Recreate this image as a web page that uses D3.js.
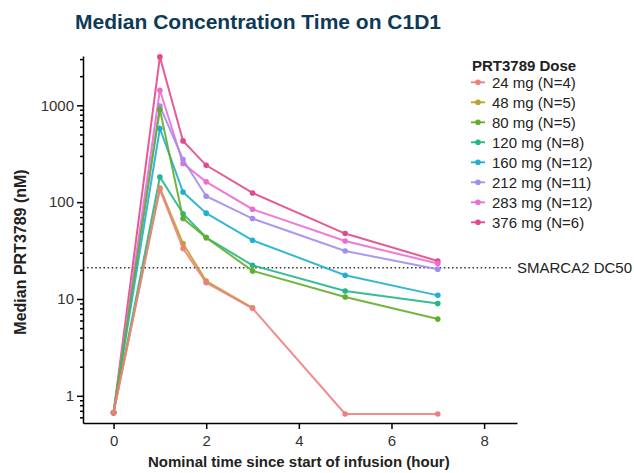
<!DOCTYPE html>
<html>
<head>
<meta charset="utf-8">
<script src="https://cdn.jsdelivr.net/npm/d3@7"></script>
<style>
  body { margin: 0; background: #fff; }
  svg text { font-family: "Liberation Sans", Arial, sans-serif; }
  .axis path, .axis line { stroke: #000; stroke-width: 1.5; }
  .axis text { font-size: 15px; fill: #333; }
</style>
</head>
<body>
<div id="chart"></div>
<script>
// Data
const times = [0, 1, 1.5, 2, 3, 5, 7];
const doses = ["24 mg (N=4)", "48 mg (N=5)", "80 mg (N=5)", "120 mg (N=8)",
               "160 mg (N=12)", "212 mg (N=11)", "283 mg (N=12)", "376 mg (N=6)"];
const conc24  = [0.67, 135, 33.2, 14.7, 8.0, 0.65, 0.65];
const conc48  = [0.67, 140, 37.3, 15.3, 8.1];
const conc80  = [0.67, 905, 67.7, 43.0, 19.5, 10.5, 6.2];
const conc120 = [0.67, 182, 76, 43.1, 22.3, 12.1, 8.96];
const conc160 = [0.67, 576, 127, 77, 40.4, 17.6, 10.9];
const conc212 = [0.67, 980, 275, 115, 67.7, 31.3, 20.3];
const conc283 = [0.67, 1432, 251, 162, 84.5, 39.7, 23.2];
const conc376 = [0.67, 3160, 429, 240, 124.5, 47.4, 24.7];
const dc50 = 21;
const xTicks = [0, 2, 4, 6, 8];
const yTicks = [1, 10, 100, 1000];

const colors = ["#ee7f7f", "#bba22c", "#62ae2c", "#22b78b", "#1fb0d1", "#a38cf0", "#ee6bd2", "#e2498a"];
const allConc = [conc24, conc48, conc80, conc120, conc160, conc212, conc283, conc376];

const series = doses.map((name, i) => ({
  name: name,
  color: colors[i],
  values: allConc[i].map((v, j) => ({ t: times[j], c: v }))
}));

// Chart dimensions
const width = 634;
const height = 473;
const margin = { top: 56, right: 117, bottom: 50, left: 83 };

const svg = d3.select("#chart")
  .append("svg")
  .attr("width", width)
  .attr("height", height);

const x = d3.scaleLinear()
  .domain([-0.66, 8.71])
  .range([margin.left, width - margin.right]);

const y = d3.scaleLog()
  .domain([0.524, 3230])
  .range([height - margin.bottom, margin.top]);

// DC50 reference line
svg.append("line")
  .attr("x1", x(-0.66))
  .attr("x2", 512)
  .attr("y1", y(dc50))
  .attr("y2", y(dc50))
  .attr("stroke", "#333")
  .attr("stroke-width", 1.5)
  .attr("stroke-dasharray", "1.5,2.6");

svg.append("text")
  .attr("x", 517)
  .attr("y", y(dc50))
  .attr("dominant-baseline", "central")
  .style("font-size", "15px")
  .style("fill", "#222")
  .text("SMARCA2 DC50");

// Lines and points (24 mg drawn last so it sits on top)
const line = d3.line()
  .x(d => x(d.t))
  .y(d => y(d.c));

series.slice().reverse().forEach(s => {
  svg.append("path")
    .datum(s.values)
    .attr("fill", "none")
    .attr("stroke", s.color)
    .attr("stroke-width", 2)
    .attr("stroke-opacity", 0.9)
    .attr("d", line);

  svg.selectAll(null)
    .data(s.values)
    .enter()
    .append("circle")
    .attr("cx", d => x(d.t))
    .attr("cy", d => y(d.c))
    .attr("r", 2.8)
    .attr("fill", s.color);
});

// X axis
svg.append("g")
  .attr("class", "axis")
  .attr("transform", `translate(0, ${height - margin.bottom})`)
  .call(d3.axisBottom(x).tickValues(xTicks).tickSize(6).tickSizeOuter(0).tickPadding(6));

// Y axis: major ticks
svg.append("g")
  .attr("class", "axis")
  .attr("transform", `translate(${margin.left}, 0)`)
  .call(d3.axisLeft(y).tickValues(yTicks).tickFormat(d3.format("d")).tickSize(6).tickSizeOuter(0).tickPadding(3));

// Y axis: minor ticks
const minor = y.ticks().filter(v => yTicks.indexOf(v) < 0);
svg.append("g")
  .attr("class", "axis")
  .attr("transform", `translate(${margin.left}, 0)`)
  .call(d3.axisLeft(y).tickValues(minor).tickFormat("").tickSize(3).tickSizeOuter(0))
  .select(".domain").remove();

// Axis titles
svg.append("text")
  .attr("x", x(4))
  .attr("y", 467)
  .attr("text-anchor", "middle")
  .style("font-size", "15px")
  .style("font-weight", "bold")
  .style("fill", "#222")
  .text("Nominal time since start of infusion (hour)");

svg.append("text")
  .attr("transform", "rotate(-90)")
  .attr("x", -252)
  .attr("y", 26)
  .attr("text-anchor", "middle")
  .style("font-size", "16px")
  .style("font-weight", "bold")
  .style("fill", "#222")
  .text("Median PRT3789 (nM)");

// Chart title
svg.append("text")
  .attr("x", 75)
  .attr("y", 29)
  .style("font-size", "21px")
  .style("font-weight", "bold")
  .style("fill", "#0d3a57")
  .text("Median Concentration Time on C1D1");

// Legend
const legend = svg.append("g").attr("transform", "translate(471, 0)");
legend.append("text")
  .attr("x", 1)
  .attr("y", 65)
  .attr("dominant-baseline", "central")
  .style("font-size", "15px")
  .style("font-weight", "bold")
  .style("fill", "#222")
  .text("PRT3789 Dose");

const items = legend.selectAll(".item")
  .data(series)
  .enter()
  .append("g")
  .attr("class", "item")
  .attr("transform", (d, i) => `translate(0, ${82.3 + i * 20})`);

items.append("line")
  .attr("x1", 0).attr("x2", 14)
  .attr("stroke", d => d.color)
  .attr("stroke-width", 1.8);

items.append("circle")
  .attr("cx", 7)
  .attr("r", 2.8)
  .attr("fill", d => d.color);

items.append("text")
  .attr("x", 21)
  .attr("dominant-baseline", "central")
  .style("font-size", "15px")
  .style("fill", "#222")
  .text(d => d.name);
</script>
</body>
</html>
